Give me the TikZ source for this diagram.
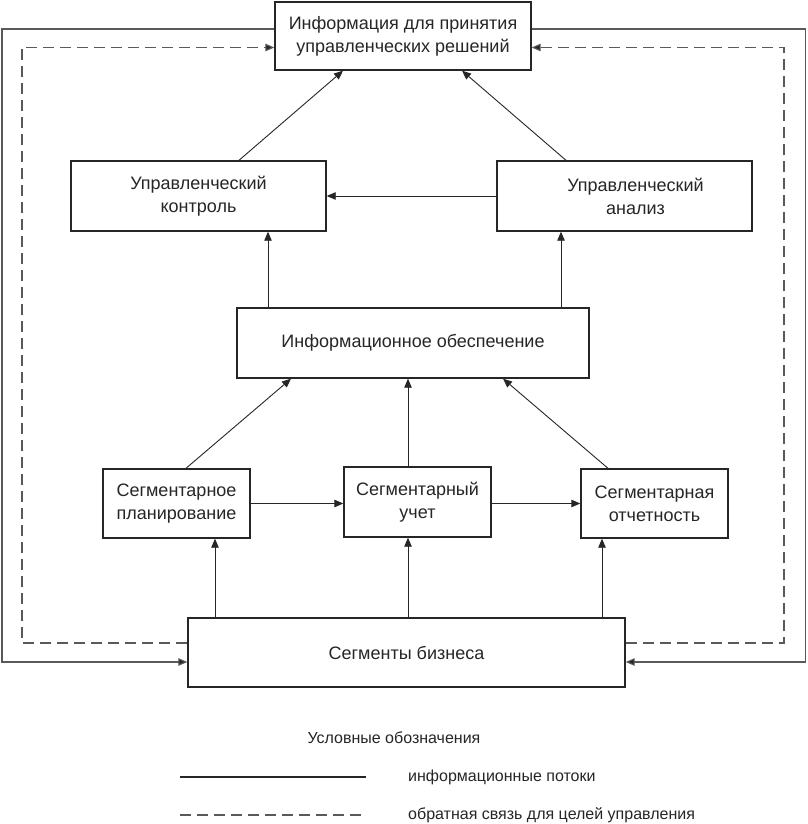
\documentclass[tikz,border=0pt]{standalone}
\usepackage{fontspec}
\setmainfont{Liberation Sans}
\usetikzlibrary{arrows.meta}
\begin{document}
\begin{tikzpicture}[x=1pt,y=-1pt,
  box/.style={draw=black!85, line width=1.4pt, align=center, inner sep=0pt,
    font=\fontsize{18}{23}\selectfont, text=black!85},
  conn/.style={draw=black!85, line width=0.9pt, -{Triangle[length=9pt,width=7.5pt]}},
  plain/.style={draw=black!85, line width=0.9pt},
  fb/.style={draw=black!65, line width=1.1pt},
  fbd/.style={draw=black!65, line width=1.1pt, dash pattern=on 11pt off 6pt},
  tip/.style={-{Triangle[length=9pt,width=7.5pt,fill=black!85]}},
  lg/.style={font=\fontsize{16}{20}\selectfont, text=black!85, inner sep=0pt}]
\useasboundingbox (0,0) rectangle (807,824);
\fill[white] (0,0) rectangle (807,824);

% boxes
\node[box, minimum width=256pt, minimum height=68pt] (top) at (403,36) {Информация для принятия\\управленческих решений};
\node[box, minimum width=255pt, minimum height=70pt] (kontrol) at (198.5,196) {Управленческий\\контроль};
\node[box, minimum width=255pt, minimum height=70pt] (analiz) at (624.5,196) {\hspace*{22pt}Управленческий\\\hspace*{22pt}анализ};
\node[box, minimum width=352pt, minimum height=70pt] (info) at (413,343) {Информационное обеспечение};
\node[box, minimum width=147pt, minimum height=69pt] (plan) at (176.5,503.5) {Сегментарное\\планирование};
\node[box, minimum width=147pt, minimum height=70pt] (uchet) at (417.5,502) {Сегментарный\\учет};
\node[box, minimum width=147pt, minimum height=69pt] (otchet) at (654.5,503.5) {Сегментарная\\отчетность};
\node[box, minimum width=437pt, minimum height=69pt] (biz) at (406.5,652.5) {Сегменты бизнеса};

% upper connectors
\draw[conn] ([xshift=40.5pt]kontrol.north) -- ([xshift=-60pt]top.south);
\draw[conn] ([xshift=-58.5pt]analiz.north) -- ([xshift=59pt]top.south);
\draw[conn] (analiz.west) -- (kontrol.east);
\draw[conn] ([xshift=-145pt]info.north) -- ([xshift=-145pt]info.north |- kontrol.south);
\draw[conn] ([xshift=148pt]info.north) -- ([xshift=148pt]info.north |- analiz.south);

% middle connectors
\draw[conn] ([xshift=9.5pt]plan.north) -- ([xshift=-122pt]info.south);
\draw[conn] ([xshift=-9.5pt]uchet.north) -- ([xshift=-9.5pt]uchet.north |- info.south);
\draw[conn] ([xshift=-46.5pt]otchet.north) -- ([xshift=90pt]info.south);
\draw[conn] (plan.east) -- (plan.east -| uchet.west);
\draw[conn] (otchet.west -| uchet.east) -- (otchet.west);

% lower connectors
\draw[conn] ([xshift=38.5pt]plan.south |- biz.north) -- ([xshift=38.5pt]plan.south);
\draw[conn] ([xshift=-9.5pt]uchet.south |- biz.north) -- ([xshift=-9.5pt]uchet.south);
\draw[conn] ([xshift=-52.5pt]otchet.south |- biz.north) -- ([xshift=-52.5pt]otchet.south);

% feedback loops
\coordinate (sl) at (2,662);
\coordinate (sr) at (805.5,662);
\coordinate (dl) at (22,643);
\coordinate (dr) at (784,643);
\draw[fb, tip] ([yshift=7pt]top.west) -| (sl) -- ([yshift=-9.5pt]biz.west);
\draw[fb, tip] ([yshift=7pt]top.east) -| (sr) -- ([yshift=-9.5pt]biz.east);
\draw[fbd, tip] ([yshift=9.5pt]biz.west) -- (dl) |- ([yshift=-11.5pt]top.west);
\draw[fbd, tip] ([yshift=9.5pt]biz.east) -- (dr) |- ([yshift=-11.5pt]top.east);

% legend
\node[lg] (lgh) at (394,738) {Условные обозначения};
\coordinate (l1a) at (180,777);
\coordinate (l1b) at (366,777);
\coordinate (l2a) at (180,815);
\coordinate (l2b) at (366,815);
\draw[plain, line width=1.1pt] (l1a) -- (l1b);
\draw[fbd] (l2a) -- (l2b);
\node[lg, anchor=west] (lg1) at (408,777) {информационные потоки};
\node[lg, anchor=west] (lg2) at (408,815) {обратная связь для целей управления};
\end{tikzpicture}
\end{document}
